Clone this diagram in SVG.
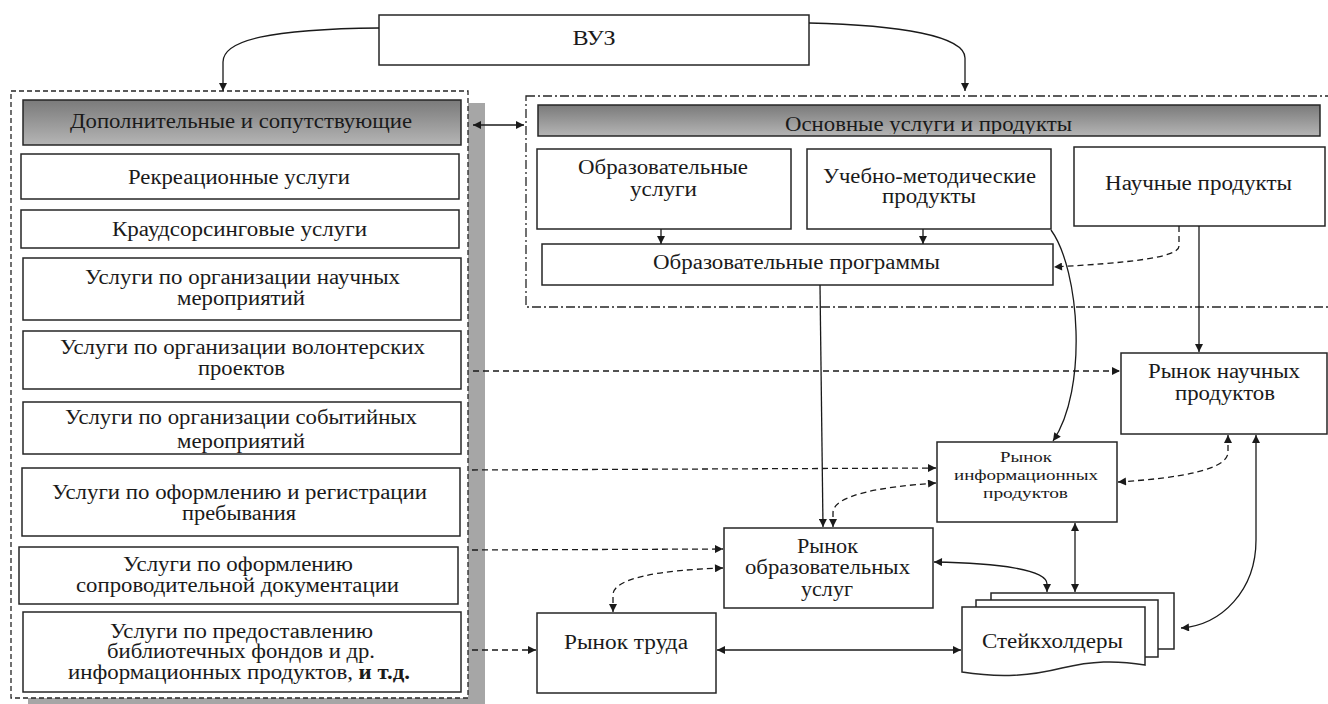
<svg xmlns="http://www.w3.org/2000/svg" width="1328" height="704" viewBox="0 0 1328 704">
<style>
.box{fill:#fff;stroke:#262626;stroke-width:1.5}
.hdr{fill:url(#g);stroke:#262626;stroke-width:1.5}
text{font-family:"Times New Roman","Liberation Serif","DejaVu Serif",serif;font-size:20px;fill:#1a1a1a;text-anchor:middle}
.s{font-size:15px}
.c{fill:none;stroke:#1a1a1a;stroke-width:1.3}
.d{stroke-dasharray:6 4}
.e{marker-end:url(#ah)}
.b{marker-start:url(#ah);marker-end:url(#ah)}
</style>
<defs>
<linearGradient id="g" x1="0" y1="0" x2="0" y2="1">
<stop offset="0" stop-color="#7a7a7a"/>
<stop offset="1" stop-color="#b5b5b5"/>
</linearGradient>
<marker id="ah" viewBox="0 0 10 10" refX="10" refY="5" markerWidth="9" markerHeight="8" markerUnits="userSpaceOnUse" orient="auto-start-reverse">
<path d="M0,0 L10,5 L0,10 z" fill="#1a1a1a"/>
</marker>
<clipPath id="hc"><rect x="538" y="105" width="782" height="29"/></clipPath>
<clipPath id="sc"><rect x="23" y="402" width="438" height="51"/></clipPath>
</defs>
<rect width="1328" height="704" fill="#fff"/>

<g id="vuz">
<rect class="box" x="379" y="15" width="430" height="50"/>
<text x="594" y="45" textLength="43" lengthAdjust="spacingAndGlyphs" style="font-size:22px">ВУЗ</text>
</g>

<g id="left-container">
<rect x="28" y="103" width="457" height="610" fill="#a6a6a6"/>
<rect x="11" y="91" width="457" height="607" fill="#fff" stroke="#262626" stroke-width="1.3" stroke-dasharray="5 3"/>
</g>
<g id="n-dop">
<rect class="hdr" x="23" y="100" width="438" height="45"/>
<text x="241" y="128" textLength="342" lengthAdjust="spacingAndGlyphs">Дополнительные и сопутствующие</text>
</g>
<g id="n-rekr">
<rect class="box" x="21" y="154" width="438" height="45"/>
<text x="239" y="184" textLength="222" lengthAdjust="spacingAndGlyphs">Рекреационные услуги</text>
</g>
<g id="n-kraud">
<rect class="box" x="21" y="210" width="438" height="38"/>
<text x="239.5" y="236" textLength="255" lengthAdjust="spacingAndGlyphs">Краудсорсинговые услуги</text>
</g>
<g id="n-nauch-mer">
<rect class="box" x="23" y="258" width="438" height="62"/>
<text x="242.5" y="284" textLength="315" lengthAdjust="spacingAndGlyphs">Услуги по организации научных</text>
<text x="241" y="305" textLength="128" lengthAdjust="spacingAndGlyphs">мероприятий</text>
</g>
<g id="n-volont">
<rect class="box" x="23" y="331" width="438" height="58"/>
<text x="242.5" y="354" textLength="365" lengthAdjust="spacingAndGlyphs">Услуги по организации волонтерских</text>
<text x="241.5" y="375" textLength="87" lengthAdjust="spacingAndGlyphs">проектов</text>
</g>
<g id="n-sobyt">
<rect class="box" x="23" y="402" width="438" height="52"/>
<text x="241" y="424" textLength="352" lengthAdjust="spacingAndGlyphs">Услуги по организации событийных</text>
<text x="241" y="448" textLength="128" lengthAdjust="spacingAndGlyphs" clip-path="url(#sc)">мероприятий</text>
</g>
<g id="n-registr">
<rect class="box" x="22" y="468" width="438" height="68"/>
<text x="239.5" y="499" textLength="375" lengthAdjust="spacingAndGlyphs">Услуги по оформлению и регистрации</text>
<text x="239" y="520" textLength="114" lengthAdjust="spacingAndGlyphs">пребывания</text>
</g>
<g id="n-soprov">
<rect class="box" x="19" y="547" width="439" height="57"/>
<text x="238" y="571" textLength="230" lengthAdjust="spacingAndGlyphs">Услуги по оформлению</text>
<text x="237.5" y="592" textLength="323" lengthAdjust="spacingAndGlyphs">сопроводительной документации</text>
</g>
<g id="n-bibl">
<rect class="box" x="23" y="612" width="438" height="80"/>
<text x="241.5" y="638" textLength="263" lengthAdjust="spacingAndGlyphs">Услуги по предоставлению</text>
<text x="241" y="658" textLength="268" lengthAdjust="spacingAndGlyphs">библиотечных фондов и др.</text>
<text x="239" y="679" textLength="342" lengthAdjust="spacingAndGlyphs">информационных продуктов, <tspan font-weight="bold">и т.д.</tspan></text>
</g>

<g id="right-container">
<rect x="526" y="96" width="820" height="211" fill="none" stroke="#262626" stroke-width="1.3" stroke-dasharray="9 3 2 3"/>
</g>
<g id="n-osn">
<rect class="hdr" x="538" y="105" width="782" height="31"/>
<text x="928.5" y="131" textLength="287" lengthAdjust="spacingAndGlyphs" clip-path="url(#hc)">Основные услуги и продукты</text>
</g>
<g id="n-obr-usl">
<rect class="box" x="537" y="149" width="254" height="80"/>
<text x="663" y="174" textLength="170" lengthAdjust="spacingAndGlyphs">Образовательные</text>
<text x="663.5" y="196" textLength="67" lengthAdjust="spacingAndGlyphs">услуги</text>
</g>
<g id="n-ucheb">
<rect class="box" x="807" y="149" width="244" height="80"/>
<text x="929.5" y="183" textLength="213" lengthAdjust="spacingAndGlyphs">Учебно-методические</text>
<text x="929" y="203" textLength="94" lengthAdjust="spacingAndGlyphs">продукты</text>
</g>
<g id="n-nauch-prod">
<rect class="box" x="1074" y="147" width="251" height="79"/>
<text x="1198.5" y="190" textLength="187" lengthAdjust="spacingAndGlyphs">Научные продукты</text>
</g>
<g id="n-obr-prog">
<rect class="box" x="542" y="244" width="511" height="41"/>
<text x="796.5" y="269" textLength="287" lengthAdjust="spacingAndGlyphs">Образовательные программы</text>
</g>
<g id="n-rynok-nauch">
<rect class="box" x="1121" y="353" width="206" height="81"/>
<text x="1224" y="378" textLength="152" lengthAdjust="spacingAndGlyphs">Рынок научных</text>
<text x="1225" y="400" textLength="100" lengthAdjust="spacingAndGlyphs">продуктов</text>
</g>
<g id="n-rynok-inf">
<rect class="box" x="937" y="442" width="180" height="80"/>
<text class="s" x="1026" y="462" textLength="52" lengthAdjust="spacingAndGlyphs">Рынок</text>
<text class="s" x="1026" y="480" textLength="144" lengthAdjust="spacingAndGlyphs">информационных</text>
<text class="s" x="1025.5" y="498" textLength="85" lengthAdjust="spacingAndGlyphs">продуктов</text>
</g>
<g id="n-rynok-obr">
<rect class="box" x="724" y="528" width="209" height="80"/>
<text x="827.5" y="553" textLength="61" lengthAdjust="spacingAndGlyphs">Рынок</text>
<text x="827.5" y="574" textLength="165" lengthAdjust="spacingAndGlyphs">образовательных</text>
<text x="827" y="596" textLength="52" lengthAdjust="spacingAndGlyphs">услуг</text>
</g>
<g id="n-rynok-truda">
<rect class="box" x="537" y="613" width="179" height="80"/>
<text x="626" y="649" textLength="124" lengthAdjust="spacingAndGlyphs">Рынок труда</text>
</g>
<g id="n-stake">
<rect class="box" x="991" y="593" width="183" height="56"/>
<rect class="box" x="976" y="600" width="182" height="57"/>
<path class="box" d="M962,607 L1145,607 L1145,665 C1115,660 1092,661 1062,668 C1030,676 1000,678 962,672 Z"/>
<text x="1052.5" y="648" textLength="141" lengthAdjust="spacingAndGlyphs">Стейкхолдеры</text>
</g>

<g id="connectors">
<path class="c e" d="M379,28 C270,29 223,40 223,62 L223,91"/>
<path class="c e" d="M809,23 C900,25 965,36 965,58 L965,91"/>
<path class="c b" d="M473,125 L524,125"/>
<path class="c e" d="M661,229 L661,244"/>
<path class="c e" d="M923,229 L923,244"/>
<path class="c d e" d="M1179,226 L1179,246 C1179,258 1125,263 1054,267"/>
<path class="c e" d="M820,285 L823,527"/>
<path class="c e" d="M1051,230 C1080,270 1088,390 1053,441"/>
<path class="c e" d="M1199,226 L1199,352"/>
<path class="c d e" d="M473,371 L1120,371"/>
<path class="c d e" d="M472,470 L936,468"/>
<path class="c d b" d="M833,527 L833,513 C833,495 880,487 936,483"/>
<path class="c d e" d="M472,550 L723,549"/>
<path class="c d b" d="M723,568 C660,570 613,578 613,595 L613,612"/>
<path class="c d e" d="M472,650 L536,650"/>
<path class="c b" d="M717,650 L961,650"/>
<path class="c b" d="M934,562 C1000,563 1047,570 1047,584 L1047,592"/>
<path class="c b" d="M1075,523 L1075,592"/>
<path class="c d b" d="M1118,482 C1180,478 1228,470 1228,452 L1228,435"/>
<path class="c b" d="M1256,435 L1256,540 C1256,590 1222,625 1181,628"/>
</g>
</svg>
